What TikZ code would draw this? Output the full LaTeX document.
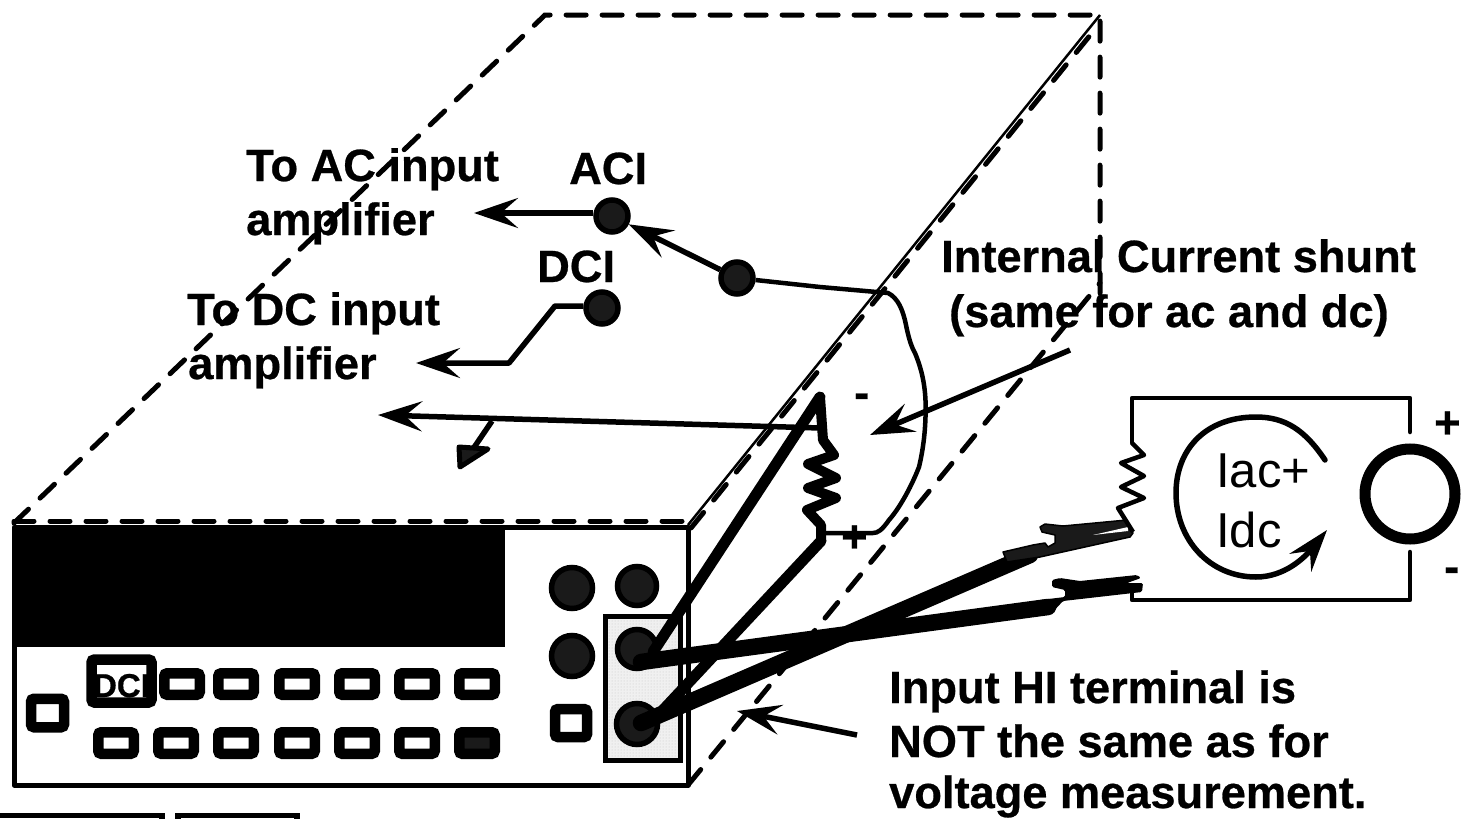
\documentclass[tikz,border=0pt]{standalone}
\usepackage{fontspec}
\setmainfont[BoldFeatures={FakeBold=0.6}]{Liberation Sans}
\usetikzlibrary{arrows.meta,patterns}
\definecolor{dk}{HTML}{1A1A1A}
\tikzset{
 dashline/.style={line width=5pt,line cap=round,dash pattern=on 20pt off 16pt},
 wire/.style={line width=5.5pt,line join=round},
 thinwire/.style={line width=4.5pt,line join=round},
 arr/.style={wire,-{Stealth[length=44pt,width=30pt,inset=17pt]}},
 coil/.style={line width=10pt,line join=round,line cap=round},
 shuntwire/.style={line width=11pt,line join=round,line cap=round},
 lead/.style={line width=16.5pt,line join=round,line cap=round},
 btn/.style={draw=black,line width=10.5pt,fill=white,rounded corners=3pt,minimum width=35.5pt,minimum height=21.5pt,inner sep=0pt},
 knob/.style={circle,draw=black,line width=5.5pt,fill=dk,inner sep=0pt},
 lbl/.style={font=\fontsize{45.2}{54}\selectfont\bfseries,inner sep=0pt,anchor=base west,align=left},
 reg/.style={font=\fontsize{49}{54}\selectfont,inner sep=0pt,anchor=base west},
}
\begin{document}
\begin{tikzpicture}[x=1pt,y=-1pt]
\clip (0,0) rectangle (1462,819);
\fill[white] (0,0) rectangle (1462,819);
% stray boxes at bottom
\draw[line width=5.5pt] (-5,815.5) -- (162,815.5) -- (162,830);
\draw[line width=5.5pt] (178,830) -- (178,815.5) -- (297,815.5) -- (297,830);
% housing
\draw[dashline] (14,523) -- (545,15) -- (1100,15) -- (1100,300);
\draw[dashline] (688,785) -- (1100,283);
\draw[dashline] (14,521) -- (690,521);
\draw[line width=2.5pt] (688,525) -- (1100,15);
\draw[line width=5pt,line cap=round,dash pattern=on 20pt off 16pt] (691,528) -- (1096,28);
% front panel
\draw[line width=5pt,fill=white,line join=round] (14,527) rectangle (688,785);
\fill[black] (16,527) rectangle (505,647);
\foreach \i/\x in {1/182,2/236,3/297,4/357,5/417,6/477} \node[btn] (top\i) at (\x,684) {};
\foreach \i/\x in {1/116,2/176,3/236,4/297,5/357,6/417} \node[btn] (bot\i) at (\x,743) {};
\node[btn,fill=dk] (bot7) at (477,743) {};
\node[btn,minimum width=60pt,minimum height=43pt] (dcibtn) at (121.5,681) {};
\node[font=\fontsize{33}{33}\selectfont\bfseries,inner sep=0pt,anchor=base] (dcitxt) at (121.5,697) {DCI};
\node[btn,minimum width=33pt,minimum height=28.5pt] (leftbtn) at (47.5,713) {};
\node[btn,minimum width=32pt,minimum height=28pt] (rightbtn) at (571,723) {};
\fill[black!6] (605,616) rectangle (680,760);
\fill[pattern=dots,pattern color=black!22] (605,616) rectangle (680,760);
\draw[line width=5pt] (605,616) rectangle (680,760);
\node[knob,minimum size=41pt] (k1) at (572,588) {};
\node[knob,minimum size=39pt] (k2) at (637,586) {};
\node[knob,minimum size=41pt] (k3) at (572,656) {};
\node[knob,minimum size=39pt] (lo) at (637,649) {};
\node[knob,minimum size=41pt] (hi) at (637,724) {};
% internal nodes
\node[knob,minimum size=32pt] (aci) at (612,216) {};
\node[knob,minimum size=32pt] (mid) at (737,278) {};
\node[knob,minimum size=32pt] (dci) at (602,308) {};
\coordinate (acitip) at (474,213);
\coordinate (dcitip) at (416,363);
\coordinate (longtip) at (378,415);
\coordinate (shtop) at (820,397);
\coordinate (shbot) at (821,541);
\coordinate (gnd) at (492,421);
\coordinate (loend) at (641,662);
\coordinate (hiend) at (641,723);
\draw[arr] (aci.west |- 0,213) -- (acitip);
\draw[arr] (dci.west |- 0,306) -- (555,306) -- (509,363) -- (dcitip);
\draw[arr] (mid) -- (aci);
\draw[arr] (shtop |- 0,428) -- (longtip);
\draw[wire] (gnd) -- (473,449);
\draw[line width=5pt,fill=dk,line join=round] (459,447) -- (488,449) -- (460,467) -- cycle;
\draw[thinwire] (mid) -- (820,287) -- (888,293) .. controls (898,298) and (903,310) .. (906,325)
  .. controls (909,340) and (912,348) .. (915,353) .. controls (922,370) and (925,385) .. (925.6,403)
  .. controls (926,430) and (923,450) .. (919,467) .. controls (910,490) and (898,510) .. (889,520)
  .. controls (882,530) and (878,533) .. (873,533) -- (shbot |- 0,533);
% shunt
\draw[coil] (shtop) -- (823,440) -- (834,455) -- (808,464) -- (836,478) -- (808,488) -- (836,498) -- (807,510) -- (821,525) -- (shbot);
\draw[shuntwire] (shtop) -- (653,652);
\draw[shuntwire] (shbot) -- (663,710);
% leads
\draw[lead] (hiend) -- (1030,555);
\draw[lead] (loend) -- (1048,607);
% clips
\draw[line width=1.5pt,fill=dk,line join=round] (1003,552) -- (1033,545) -- (1045,543) -- (1048,547) -- (1055,543) -- (1055,535) -- (1042,532) -- (1040,527) -- (1045,524) -- (1063,526) -- (1127,520) -- (1133,533) -- (1130,537) -- (1040,557) -- (1007,562) -- cycle;
\fill[white] (1093,535) -- (1128,527) -- (1128,531) -- cycle;
\fill[black,rounded corners=1.5pt] (1052,580) -- (1060,578) -- (1080,581) -- (1137,575) -- (1141,578) -- (1127,583) -- (1143,583) -- (1142,592) -- (1063,601) -- (1050,615) -- (1040,600) -- (1065,597) -- (1065,590) -- (1052,587) -- cycle;
% circuit
\coordinate (r1) at (1132,443);
\coordinate (r2) at (1133,532);
\node[circle,draw=black,line width=11pt,minimum size=90pt,inner sep=0pt] (src) at (1410,494) {};
\coordinate (s1) at (1410,432);
\coordinate (s2) at (1410,552);
\draw[thinwire,line cap=round] (r1) -- (1132,398) -- (1410,398) -- (s1);
\draw[thinwire,line cap=round] (1132,592) -- (1132,600) -- (1410,600) -- (s2);
\draw[thinwire] (r1) -- (1144,455) -- (1121,463) -- (1144,476) -- (1121,487) -- (1144,498) -- (1118,508) -- (r2);
\coordinate (cstart) at (1325,460);
\coordinate (ctip) at (1327,530);
\draw[wire,line cap=round,-{Stealth[length=42pt,width=28pt,inset=15pt]}] (cstart) .. controls (1305,430) and (1285,417) .. (1256,417)
  .. controls (1205,417) and (1176,450) .. (1176,493) .. controls (1176,540) and (1210,577) .. (1256,577)
  .. controls (1285,577) and (1305,557) .. (ctip);
% pointers
\coordinate (shuntlbl) at (1070,350);
\coordinate (shunttip) at (870,435);
\coordinate (hilbl) at (857,735);
\coordinate (hitip) at (737,711);
\draw[arr] (shuntlbl) -- (shunttip);
\draw[arr] (hilbl) -- (hitip);
% text
\node[lbl] (t1) at (246,181) {To AC input};
\node[lbl] (t2) at (246,235) {amplifier};
\node[lbl] (t3) at (569,184) {ACI};
\node[lbl] (t4) at (537,282) {DCI};
\node[lbl] (t5) at (187,325) {To DC input};
\node[lbl] (t6) at (188,379) {amplifier};
\node[lbl] (t7) at (941,272) {Internal Current shunt};
\node[lbl] (t8) at (949,327) {(same for ac and dc)};
\node[lbl] (t9) at (889,703) {Input HI terminal is};
\node[lbl] (t10) at (889,757) {NOT the same as for};
\node[lbl] (t11) at (889,808) {voltage measurement.};
\node[lbl] (p1) at (841,552) {+};
\node[lbl] (m1) at (854,408) {-};
\node[lbl] (p2) at (1434,438) {+};
\node[lbl] (m2) at (1444,582) {-};
\node[reg] (iac) at (1216,487) {Iac+};
\node[reg] (idc) at (1216,547) {Idc};
\end{tikzpicture}
\end{document}
